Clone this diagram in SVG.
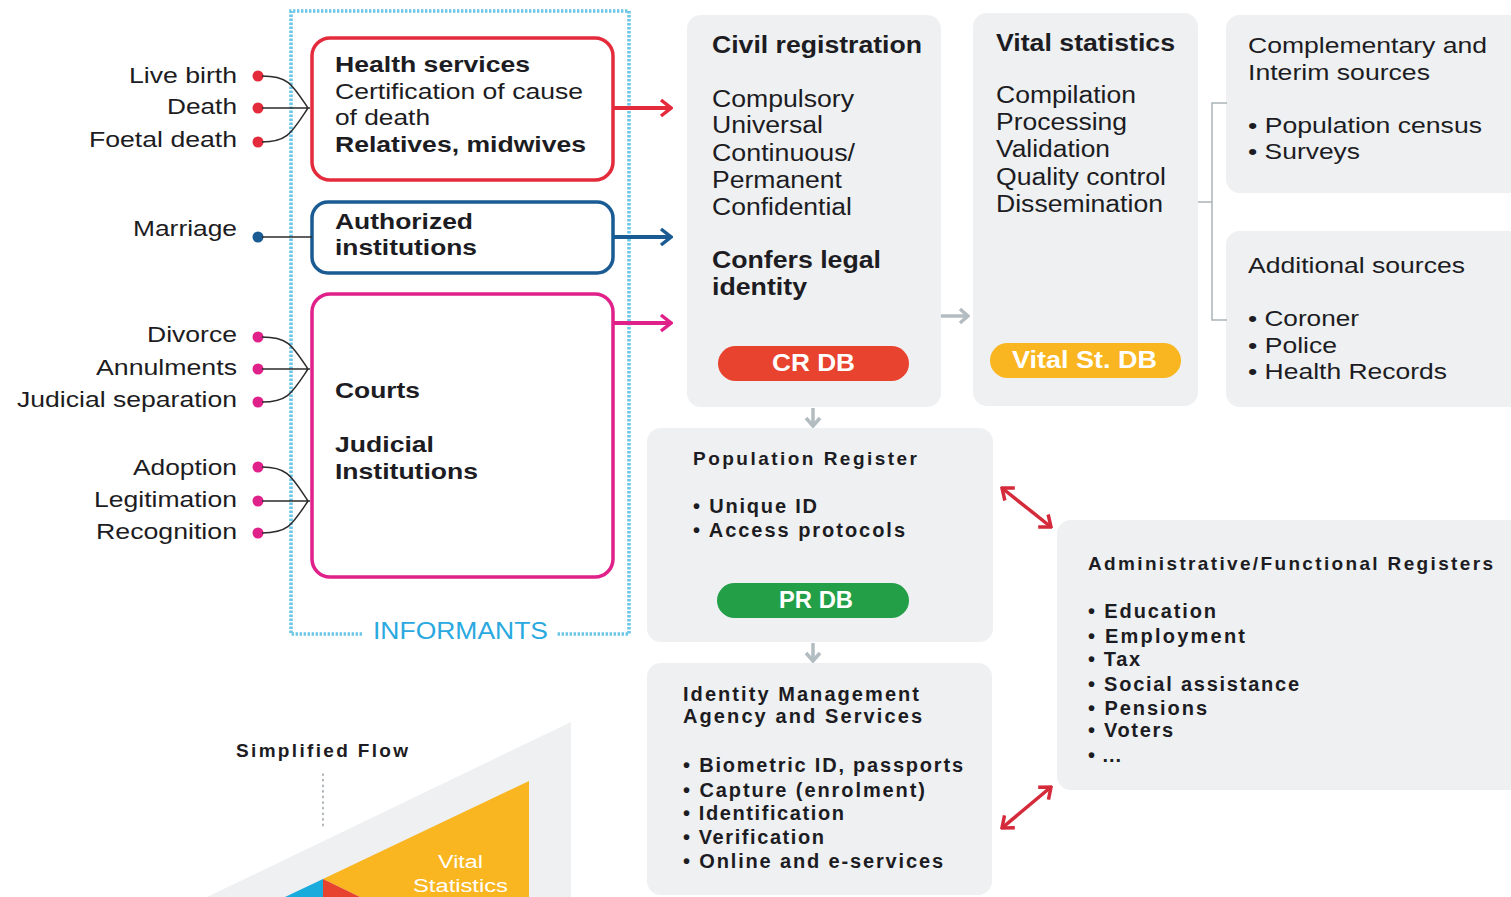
<svg xmlns="http://www.w3.org/2000/svg" width="1511" height="897" viewBox="0 0 1511 897">
<style>
text{font-family:"Liberation Sans",Arial,sans-serif;fill:#1c1c22}
.lbl{font-size:22px;text-anchor:end}
.bx{font-size:22px}
.pn{font-size:23px}
.sm{font-size:20px;font-weight:bold}
.hd{font-size:19px;font-weight:bold}
.b{font-weight:bold}
.pill{font-size:23px;font-weight:bold;fill:#fff;text-anchor:middle}
.panel{fill:#eef0f2}
.brace{fill:none;stroke:#2b2b2b;stroke-width:1.5}
.dr{fill:#e42b3c}.db{fill:#1a5b93}.dp{fill:#e0218a}
</style>
<defs>
<marker id="hRed" viewBox="-13 -10 15 20" refX="0" refY="0" markerWidth="15" markerHeight="20" markerUnits="userSpaceOnUse" orient="auto-start-reverse"><path d="M-10,-8 L0,0 L-10,8" fill="none" stroke="#e42b3c" stroke-width="3.5"/></marker>
<marker id="hBlue" viewBox="-13 -10 15 20" refX="0" refY="0" markerWidth="15" markerHeight="20" markerUnits="userSpaceOnUse" orient="auto-start-reverse"><path d="M-10,-8 L0,0 L-10,8" fill="none" stroke="#1a5b93" stroke-width="3.5"/></marker>
<marker id="hPink" viewBox="-13 -10 15 20" refX="0" refY="0" markerWidth="15" markerHeight="20" markerUnits="userSpaceOnUse" orient="auto-start-reverse"><path d="M-10,-8 L0,0 L-10,8" fill="none" stroke="#e0218a" stroke-width="3.5"/></marker>
<marker id="hGray" viewBox="-12 -10 14 20" refX="0" refY="0" markerWidth="14" markerHeight="20" markerUnits="userSpaceOnUse" orient="auto-start-reverse"><path d="M-8,-7 L0,0 L-8,7" fill="none" stroke="#b3bcc1" stroke-width="3.5"/></marker>
<marker id="hCrim" viewBox="-13 -10 15 20" refX="0" refY="0" markerWidth="15" markerHeight="20" markerUnits="userSpaceOnUse" orient="auto-start-reverse"><path d="M-10,-8 L0,0 L-10,8" fill="none" stroke="#d42a3a" stroke-width="3.5"/></marker>
</defs>

<rect width="1511" height="897" fill="#fff"/>

<!-- event labels with their coloured dots -->
<g id="ev-live-birth"><text class="lbl" x="237" y="83" textLength="108" lengthAdjust="spacingAndGlyphs">Live birth</text><circle class="dr" cx="258" cy="76" r="5.5"/></g>
<g id="ev-death"><text class="lbl" x="237" y="114" textLength="70" lengthAdjust="spacingAndGlyphs">Death</text><circle class="dr" cx="258" cy="108" r="5.5"/></g>
<g id="ev-foetal-death"><text class="lbl" x="237" y="147" textLength="148" lengthAdjust="spacingAndGlyphs">Foetal death</text><circle class="dr" cx="258" cy="142" r="5.5"/></g>
<g id="ev-marriage"><text class="lbl" x="237" y="236" textLength="104" lengthAdjust="spacingAndGlyphs">Marriage</text><circle class="db" cx="258" cy="237" r="5.5"/></g>
<g id="ev-divorce"><text class="lbl" x="237" y="342" textLength="90" lengthAdjust="spacingAndGlyphs">Divorce</text><circle class="dp" cx="258" cy="337" r="5.5"/></g>
<g id="ev-annulments"><text class="lbl" x="237" y="375" textLength="141" lengthAdjust="spacingAndGlyphs">Annulments</text><circle class="dp" cx="258" cy="369" r="5.5"/></g>
<g id="ev-judicial-separation"><text class="lbl" x="237" y="407" textLength="220" lengthAdjust="spacingAndGlyphs">Judicial separation</text><circle class="dp" cx="258" cy="402" r="5.5"/></g>
<g id="ev-adoption"><text class="lbl" x="237" y="475" textLength="104" lengthAdjust="spacingAndGlyphs">Adoption</text><circle class="dp" cx="258" cy="467" r="5.5"/></g>
<g id="ev-legitimation"><text class="lbl" x="237" y="507" textLength="143" lengthAdjust="spacingAndGlyphs">Legitimation</text><circle class="dp" cx="258" cy="501" r="5.5"/></g>
<g id="ev-recognition"><text class="lbl" x="237" y="539" textLength="141" lengthAdjust="spacingAndGlyphs">Recognition</text><circle class="dp" cx="258" cy="533" r="5.5"/></g>

<!-- informants frame -->
<g id="informants">
<path d="M362,634 H291 V11 H629 V634 H556" fill="none" stroke="#6cc6e6" stroke-width="3.6" stroke-dasharray="2.4 1.6"/>
<text x="460.5" y="639" text-anchor="middle" font-size="23" style="fill:#29a9df" textLength="175" lengthAdjust="spacingAndGlyphs">INFORMANTS</text>
</g>

<g id="health-services">
<rect x="312" y="38" width="301" height="142" rx="18" fill="#fff" stroke="#e42b3c" stroke-width="3.5"/>
<text class="bx b" x="335" y="72" textLength="195" lengthAdjust="spacingAndGlyphs">Health services</text>
<text class="bx" x="335" y="99" textLength="248" lengthAdjust="spacingAndGlyphs">Certification of cause</text>
<text class="bx" x="335" y="125" textLength="95" lengthAdjust="spacingAndGlyphs">of death</text>
<text class="bx b" x="335" y="152" textLength="251" lengthAdjust="spacingAndGlyphs">Relatives, midwives</text>
</g>

<g id="authorized-institutions">
<rect x="312" y="202" width="301" height="71" rx="16" fill="#fff" stroke="#1a5b93" stroke-width="3.5"/>
<text class="bx b" x="335" y="229" textLength="138" lengthAdjust="spacingAndGlyphs">Authorized</text>
<text class="bx b" x="335" y="255" textLength="142" lengthAdjust="spacingAndGlyphs">institutions</text>
</g>

<g id="courts">
<rect x="312" y="294" width="301" height="283" rx="18" fill="#fff" stroke="#e0218a" stroke-width="3.5"/>
<text class="bx b" x="335" y="398" textLength="85" lengthAdjust="spacingAndGlyphs">Courts</text>
<text class="bx b" x="335" y="452" textLength="99" lengthAdjust="spacingAndGlyphs">Judicial</text>
<text class="bx b" x="335" y="479" textLength="143" lengthAdjust="spacingAndGlyphs">Institutions</text>
</g>

<g id="civil-registration">
<rect class="panel" x="687" y="15" width="254" height="392" rx="14"/>
<text class="pn b" x="712" y="53" textLength="210" lengthAdjust="spacingAndGlyphs">Civil registration</text>
<text class="pn" x="712" y="107" textLength="142" lengthAdjust="spacingAndGlyphs">Compulsory</text>
<text class="pn" x="712" y="133" textLength="111" lengthAdjust="spacingAndGlyphs">Universal</text>
<text class="pn" x="712" y="161" textLength="143" lengthAdjust="spacingAndGlyphs">Continuous/</text>
<text class="pn" x="712" y="188" textLength="130" lengthAdjust="spacingAndGlyphs">Permanent</text>
<text class="pn" x="712" y="215" textLength="140" lengthAdjust="spacingAndGlyphs">Confidential</text>
<text class="pn b" x="712" y="268" textLength="169" lengthAdjust="spacingAndGlyphs">Confers legal</text>
<text class="pn b" x="712" y="295" textLength="95" lengthAdjust="spacingAndGlyphs">identity</text>
<rect x="718" y="346" width="191" height="35" rx="17.5" fill="#e8432e"/>
<text class="pill" x="813.5" y="371" textLength="83" lengthAdjust="spacingAndGlyphs">CR DB</text>
</g>

<g id="vital-statistics">
<rect class="panel" x="973" y="13" width="225" height="393" rx="14"/>
<text class="pn b" x="996" y="51" textLength="179" lengthAdjust="spacingAndGlyphs">Vital statistics</text>
<text class="pn" x="996" y="103" textLength="140" lengthAdjust="spacingAndGlyphs">Compilation</text>
<text class="pn" x="996" y="130" textLength="131" lengthAdjust="spacingAndGlyphs">Processing</text>
<text class="pn" x="996" y="157" textLength="114" lengthAdjust="spacingAndGlyphs">Validation</text>
<text class="pn" x="996" y="185" textLength="170" lengthAdjust="spacingAndGlyphs">Quality control</text>
<text class="pn" x="996" y="212" textLength="167" lengthAdjust="spacingAndGlyphs">Dissemination</text>
<rect x="990" y="343" width="191" height="35" rx="17.5" fill="#f9b620"/>
<text class="pill" x="1084.5" y="368" textLength="145" lengthAdjust="spacingAndGlyphs">Vital St. DB</text>
</g>

<g id="complementary-sources">
<rect class="panel" x="1226" y="15" width="300" height="178" rx="14"/>
<text class="bx" x="1248" y="53" textLength="239" lengthAdjust="spacingAndGlyphs">Complementary and</text>
<text class="bx" x="1248" y="80" textLength="182" lengthAdjust="spacingAndGlyphs">Interim sources</text>
<text class="bx" x="1248" y="133" textLength="234" lengthAdjust="spacingAndGlyphs">• Population census</text>
<text class="bx" x="1248" y="159" textLength="112" lengthAdjust="spacingAndGlyphs">• Surveys</text>
</g>

<g id="additional-sources">
<rect class="panel" x="1226" y="231" width="300" height="176" rx="14"/>
<text class="bx" x="1248" y="273" textLength="217" lengthAdjust="spacingAndGlyphs">Additional sources</text>
<text class="bx" x="1248" y="326" textLength="111" lengthAdjust="spacingAndGlyphs">• Coroner</text>
<text class="bx" x="1248" y="353" textLength="89" lengthAdjust="spacingAndGlyphs">• Police</text>
<text class="bx" x="1248" y="379" textLength="199" lengthAdjust="spacingAndGlyphs">• Health Records</text>
</g>

<g id="population-register">
<rect class="panel" x="647" y="428" width="346" height="214" rx="14"/>
<text class="hd" x="693" y="465" textLength="224">Population Register</text>
<text class="sm" x="693" y="513" textLength="124">• Unique ID</text>
<text class="sm" x="693" y="537" textLength="212">• Access protocols</text>
<rect x="717" y="583" width="192" height="35" rx="17.5" fill="#239f48"/>
<text class="pill" x="816" y="608" textLength="74" lengthAdjust="spacingAndGlyphs">PR DB</text>
</g>

<g id="identity-management">
<rect class="panel" x="647" y="663" width="345" height="232" rx="14"/>
<text class="sm" x="683" y="701" textLength="236">Identity Management</text>
<text class="sm" x="683" y="723" textLength="239">Agency and Services</text>
<text class="sm" x="683" y="772" textLength="280">• Biometric ID, passports</text>
<text class="sm" x="683" y="797" textLength="242">• Capture (enrolment)</text>
<text class="sm" x="683" y="820" textLength="161">• Identification</text>
<text class="sm" x="683" y="844" textLength="141">• Verification</text>
<text class="sm" x="683" y="868" textLength="260">• Online and e-services</text>
</g>

<g id="functional-registers">
<rect class="panel" x="1057" y="520" width="470" height="270" rx="14"/>
<text class="hd" x="1088" y="570" textLength="405">Administrative/Functional Registers</text>
<text class="sm" x="1088" y="618" textLength="128">• Education</text>
<text class="sm" x="1088" y="643" textLength="157">• Employment</text>
<text class="sm" x="1088" y="666" textLength="52">• Tax</text>
<text class="sm" x="1088" y="691" textLength="211">• Social assistance</text>
<text class="sm" x="1088" y="715" textLength="119">• Pensions</text>
<text class="sm" x="1088" y="737" textLength="85">• Voters</text>
<text class="sm" x="1088" y="762" textLength="33">• ...</text>
</g>

<!-- simplified flow inset -->
<g id="simplified-flow">
<text class="hd" x="236" y="757" textLength="172">Simplified Flow</text>
<line x1="323" y1="774" x2="323" y2="830" stroke="#9aa3a8" stroke-width="1.6" stroke-dasharray="1.2 4.4" stroke-linecap="round"/>
<polygon points="207,897 571,722 571,897" fill="#eef0f2"/>
<polygon points="323,879 529,781 529,897 360,897" fill="#f9b620"/>
<polygon points="285,897 323,879 323,897" fill="#18abdc"/>
<polygon points="323,879 360,897 323,897" fill="#e8432e"/>
<text x="460.5" y="868" font-size="18" text-anchor="middle" style="fill:#fff" textLength="45" lengthAdjust="spacingAndGlyphs">Vital</text>
<text x="460.5" y="892" font-size="18" text-anchor="middle" style="fill:#fff" textLength="95" lengthAdjust="spacingAndGlyphs">Statistics</text>
</g>

<!-- connectors -->
<g id="connectors">
<path class="brace" d="M262,76 C288,76 292,84 308,108 M262,108 H310 M262,142 C288,142 292,132 308,108"/>
<path class="brace" d="M262,237 H312"/>
<path class="brace" d="M262,337 C288,337 292,345 308,369 M262,369 H310 M262,402 C288,402 292,393 308,369"/>
<path class="brace" d="M262,467 C288,467 292,477 308,501 M262,501 H310 M262,533 C288,533 292,525 308,501"/>
<path d="M614,108 H671" stroke="#e42b3c" stroke-width="4" fill="none" marker-end="url(#hRed)"/>
<path d="M614,237 H671" stroke="#1a5b93" stroke-width="4" fill="none" marker-end="url(#hBlue)"/>
<path d="M614,323 H671" stroke="#e0218a" stroke-width="4" fill="none" marker-end="url(#hPink)"/>
<path d="M941,316 H968" stroke="#b3bcc1" stroke-width="3.5" fill="none" marker-end="url(#hGray)"/>
<path d="M813,408 V426" stroke="#b3bcc1" stroke-width="3.5" fill="none" marker-end="url(#hGray)"/>
<path d="M813,643 V661" stroke="#b3bcc1" stroke-width="3.5" fill="none" marker-end="url(#hGray)"/>
<path d="M1198,202 H1212 M1227,103 H1212 V320 H1227" stroke="#aab4b9" stroke-width="1.5" fill="none"/>
<path d="M1002,488 L1051,527" stroke="#d42a3a" stroke-width="3.5" fill="none" marker-start="url(#hCrim)" marker-end="url(#hCrim)"/>
<path d="M1002,828 L1051,787" stroke="#d42a3a" stroke-width="3.5" fill="none" marker-start="url(#hCrim)" marker-end="url(#hCrim)"/>
</g>
</svg>
